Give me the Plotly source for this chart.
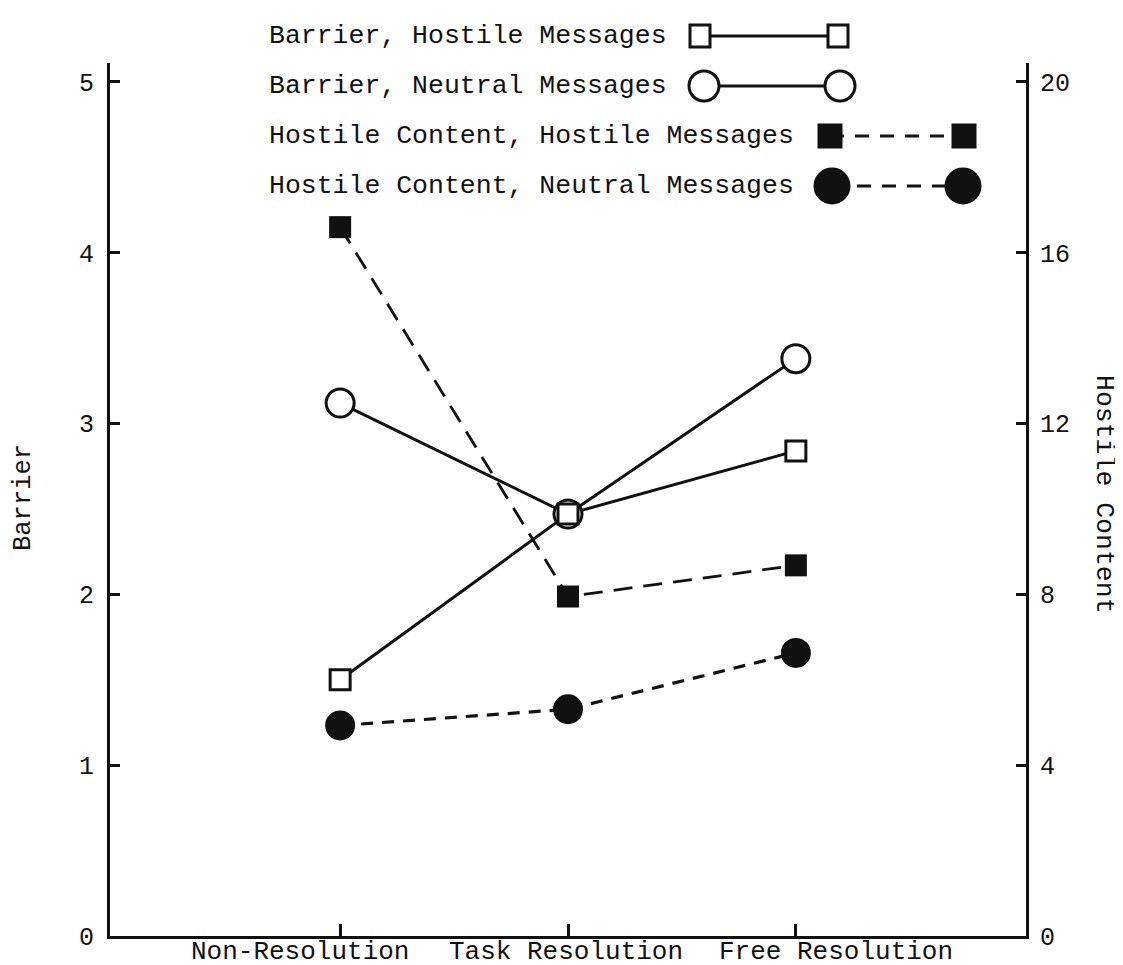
import plotly.graph_objects as go

# ---------------- data ----------------
categories = ["Non-Resolution", "Task Resolution", "Free Resolution"]
barrier_hostile = [1.50, 2.47, 2.84]          # open squares, solid line (left axis)
barrier_neutral = [3.12, 2.47, 3.38]          # open circles, solid line (left axis)
hostile_content_hostile = [16.6, 7.95, 8.68]  # filled squares, dashed (right axis)
hostile_content_neutral = [4.93, 5.31, 6.63]  # filled circles, dashed (right axis)
barrier_ticks = [0, 1, 2, 3, 4, 5]
hostile_ticks = [0, 4, 8, 12, 16, 20]
legend_labels = [
    "Barrier, Hostile Messages",
    "Barrier, Neutral Messages",
    "Hostile Content, Hostile Messages",
    "Hostile Content, Neutral Messages",
]

# ---------------- layout geometry ----------------
W, H = 1123, 965
L, R, T, B = 102, 105, 55, 37
PW, PH = W - L - R, H - T - B
Y_TOP = 5.111           # left axis top (5 sits a little below the top of the axis line)
Y2_TOP = Y_TOP * 4

FONT = "Liberation Mono, Courier New, monospace"
BLACK = "#111111"


def px_x(px):
    return (px - L) / PW


def px_y(py):
    return (H - B - py) / PH


fig = go.Figure()

# Barrier lines (drawn first, markers later so they sit on top)
for vals in (barrier_hostile, barrier_neutral):
    fig.add_trace(go.Scatter(
        x=categories, y=vals, mode="lines",
        line=dict(color=BLACK, width=3), showlegend=False, hoverinfo="skip"))

fig.add_trace(go.Scatter(
    x=categories, y=barrier_neutral, mode="markers", name=legend_labels[1],
    marker=dict(symbol="circle", size=28, color="white",
                line=dict(color=BLACK, width=3)), showlegend=False))
fig.add_trace(go.Scatter(
    x=categories, y=barrier_hostile, mode="markers", name=legend_labels[0],
    marker=dict(symbol="square", size=20, color="white",
                line=dict(color=BLACK, width=3)), showlegend=False))

# Hostile content (right axis)
fig.add_trace(go.Scatter(
    x=categories, y=hostile_content_hostile, mode="lines+markers", yaxis="y2",
    name=legend_labels[2],
    line=dict(color=BLACK, width=2.8, dash="19px,11px"),
    marker=dict(symbol="square", size=22, color=BLACK), showlegend=False))
fig.add_trace(go.Scatter(
    x=categories, y=hostile_content_neutral, mode="lines+markers", yaxis="y2",
    name=legend_labels[3],
    line=dict(color=BLACK, width=3.2, dash="12px,9px"),
    marker=dict(symbol="circle", size=30, color=BLACK), showlegend=False))

# ---------------- manual legend (text on the left, key on the right) ----------------
shapes = []
annotations = []
legend_rows = [
    # (label, y px, left key centre px, right key centre px, symbol, filled, dashed)
    (legend_labels[0], 28, 692, 830, "square", False, False),
    (legend_labels[1], 78, 696, 832, "circle", False, False),
    (legend_labels[2], 128, 822, 956, "square", True, True),
    (legend_labels[3], 178, 824, 955, "circle", True, True),
]
for label, ypx, xl, xr, sym, filled, dashed in legend_rows:
    annotations.append(dict(
        text=label, xref="paper", yref="paper", x=px_x(259), y=px_y(ypx),
        xanchor="left", yanchor="middle", showarrow=False,
        font=dict(family=FONT, size=26.5, color=BLACK)))
    shapes.append(dict(
        type="line", xref="paper", yref="paper",
        x0=px_x(xl), x1=px_x(xr), y0=px_y(ypx), y1=px_y(ypx),
        line=dict(color=BLACK, width=3 if not dashed else 2.8,
                  dash="14px,11px" if dashed else "solid")))
    for xc in (xl, xr):
        if sym == "square":
            hw, hh = (10, 11) if not filled else (11, 11)
            stype = "rect"
        else:
            hw, hh = (15, 15) if not filled else (17, 17)
            stype = "circle"
        shapes.append(dict(
            type=stype, xref="paper", yref="paper",
            xsizemode="pixel", ysizemode="pixel",
            xanchor=px_x(xc), yanchor=px_y(ypx),
            x0=-hw, x1=hw, y0=-hh, y1=hh,
            fillcolor=BLACK if filled else "white",
            line=dict(color=BLACK, width=3)))

# x category labels (typed slightly off the ticks in the original)
for cat, shift in zip(categories, (-40, -2, 40)):
    annotations.append(dict(
        text=cat, xref="x", yref="paper", x=cat, y=px_y(944), xshift=shift,
        xanchor="center", yanchor="middle", showarrow=False,
        font=dict(family=FONT, size=26, color=BLACK)))

# axis titles
annotations.append(dict(
    text="Barrier", xref="paper", yref="paper", x=px_x(15), y=px_y(490),
    textangle=-90, xanchor="center", yanchor="middle", showarrow=False,
    font=dict(family=FONT, size=25.5, color=BLACK)))
annotations.append(dict(
    text="Hostile Content", xref="paper", yref="paper", x=px_x(1096), y=px_y(486),
    textangle=90, xanchor="center", yanchor="middle", showarrow=False,
    font=dict(family=FONT, size=26.5, color=BLACK)))

axis_common = dict(
    showline=True, linecolor=BLACK, linewidth=3, showgrid=False, zeroline=False,
    ticks="inside", tickcolor=BLACK, tickwidth=3,
)

fig.update_layout(
    width=W, height=H,
    margin=dict(l=L, r=R, t=T, b=B, pad=0),
    paper_bgcolor="white", plot_bgcolor="white",
    showlegend=False,
    font=dict(family=FONT, color=BLACK),
    xaxis=dict(
        **axis_common, ticklen=12, type="category",
        range=[-1.01, 3.01], showticklabels=False,
    ),
    yaxis=dict(
        **axis_common, ticklen=10, range=[0, Y_TOP],
        tickvals=barrier_ticks, ticktext=[str(v) for v in barrier_ticks],
        tickfont=dict(family=FONT, size=25, color=BLACK),
        ticklabelstandoff=8,
    ),
    yaxis2=dict(
        **axis_common, ticklen=10, range=[0, Y2_TOP], overlaying="y", side="right",
        tickvals=hostile_ticks, ticktext=[str(v) for v in hostile_ticks],
        tickfont=dict(family=FONT, size=25, color=BLACK),
        ticklabelstandoff=6,
    ),
    shapes=shapes,
    annotations=annotations,
)

fig.write_html("out.html")
